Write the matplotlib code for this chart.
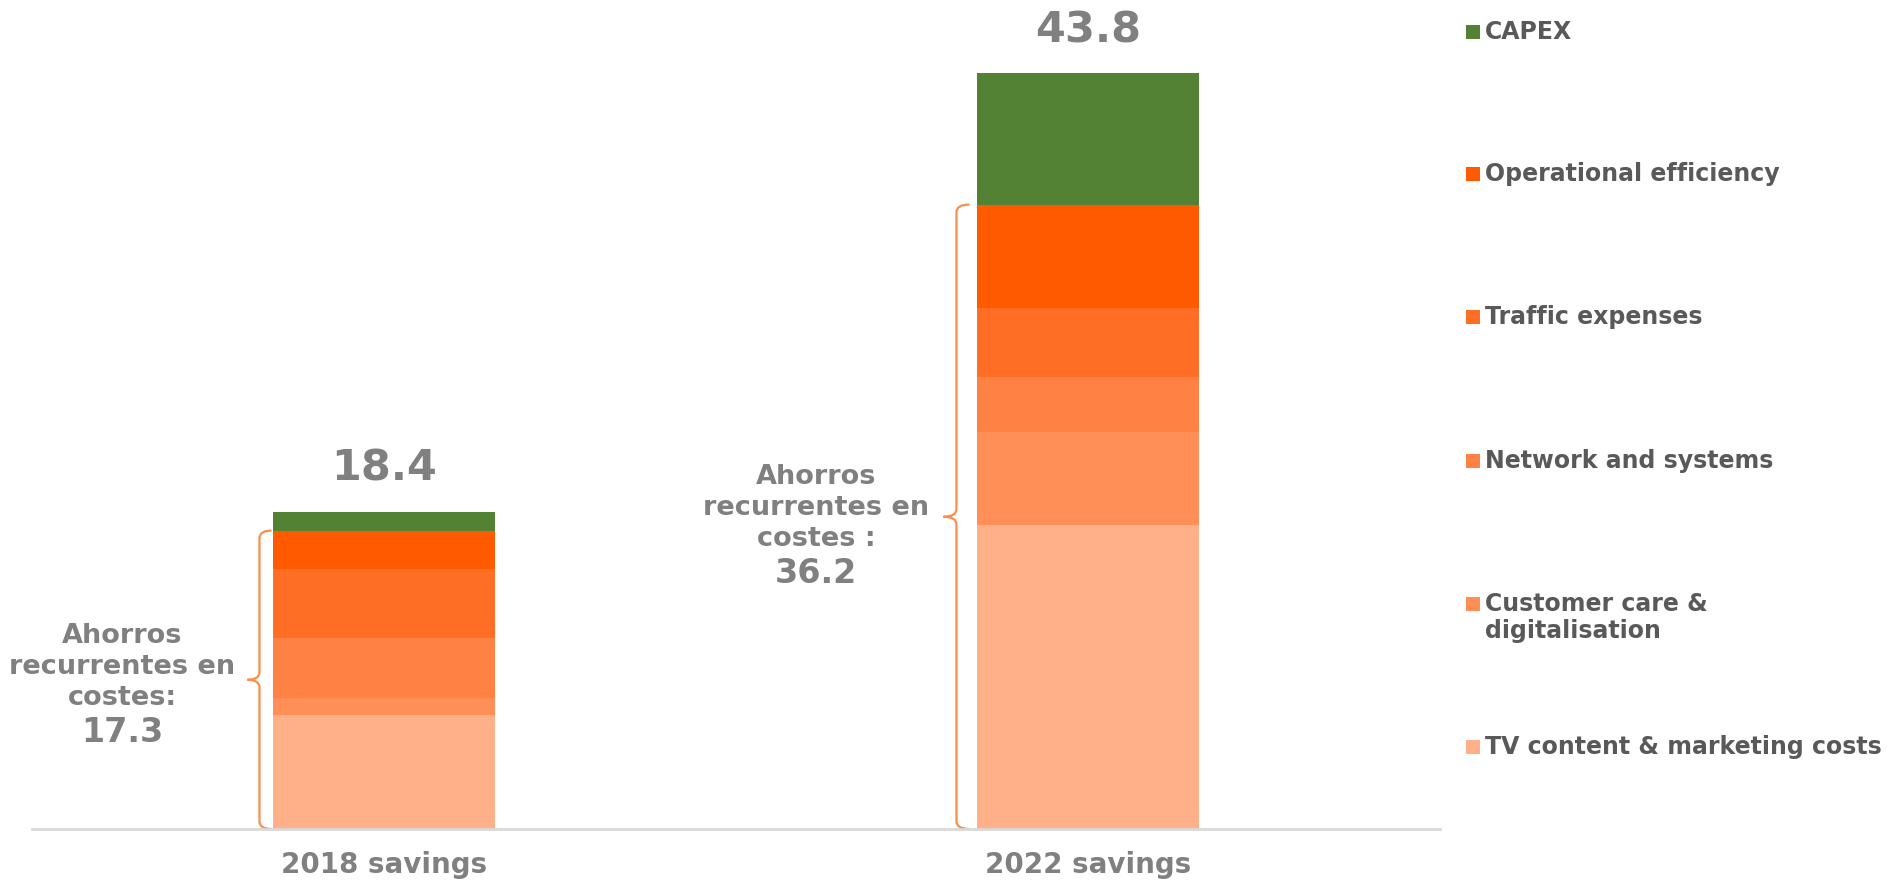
import matplotlib
matplotlib.use("Agg")
import matplotlib.pyplot as plt
from matplotlib.path import Path
from matplotlib.patches import PathPatch, Rectangle
import numpy as np

plt.rcParams['font.family'] = ['DejaVu Sans']

# ---- data ----
periods = ["2018 savings", "2022 savings"]
categories = ["TV content & marketing costs", "Customer care &\ndigitalisation",
              "Network and systems", "Traffic expenses", "Operational efficiency", "CAPEX"]
tv_content = [6.6, 17.6]
customer_care = [1.0, 5.4]
network = [3.5, 3.2]
traffic = [4.0, 4.0]
operational = [2.2, 6.0]
capex = [1.1, 7.6]
totals = [18.4, 43.8]
recurring = [17.3, 36.2]
recurring_text = ["Ahorros\nrecurrentes en\ncostes:", "Ahorros\nrecurrentes en\ncostes :"]

series = [tv_content, customer_care, network, traffic, operational, capex]
colors = ["#FFB088", "#FF8F56", "#FF8244", "#FF6E24", "#FF5A00", "#548235"]

fig = plt.figure(figsize=(18.88, 8.82), dpi=100)
ax = fig.add_axes([32/1888, 53/882, (1440-32)/1888, 828/882])

x = np.arange(len(periods))
width = 0.314
bottom = np.zeros(len(periods))
for vals, col in zip(series, colors):
    ax.bar(x, vals, width, bottom=bottom, color=col, edgecolor='none', linewidth=0)
    bottom += np.array(vals)

ax.set_xlim(-0.5, 1.5)
ax.set_ylim(0, 48)
for s in ['top', 'right', 'left']:
    ax.spines[s].set_visible(False)
ax.spines['bottom'].set_color('#D9D9D9')
ax.spines['bottom'].set_linewidth(2)
ax.set_yticks([])
ax.set_xticks(x)
ax.set_xticklabels(periods, fontsize=20, fontweight='bold', color='#808080')
ax.tick_params(axis='x', length=0, pad=16)

# totals above bars
for xi, t in zip(x, totals):
    ax.text(xi, t + 2.5, f"{t:.1f}", ha='center', va='center', fontsize=31,
            fontweight='bold', color='#808080')

# braces
px = 1/704.0
brace_offsets = [(14, 2, 26), (21, 8, 34)]
text_x = [-0.372, 0.614]
text_dy = [0.75, 0.5]

def brace(ax, xv, xt, xm, y0, y1, r):
    ym = (y0 + y1) / 2
    verts = [(xt, y1), (xv, y1), (xv, y1 - r),
             (xv, ym + r),
             (xv, ym), (xm, ym),
             (xv, ym), (xv, ym - r),
             (xv, y0 + r),
             (xv, y0), (xt, y0)]
    codes = [Path.MOVETO, Path.CURVE3, Path.CURVE3,
             Path.LINETO,
             Path.CURVE3, Path.CURVE3,
             Path.CURVE3, Path.CURVE3,
             Path.LINETO,
             Path.CURVE3, Path.CURVE3]
    ax.add_patch(PathPatch(Path(verts, codes), fill=False, edgecolor='#F5904E',
                           linewidth=1.6, clip_on=False))

for i, (xi, rec) in enumerate(zip(x, recurring)):
    left = xi - width / 2
    ov, ot, om = brace_offsets[i]
    brace(ax, left - ov*px, left - ot*px, left - om*px, 0, rec, 0.45)
    ym = rec / 2
    ax.text(text_x[i], ym + text_dy[i], recurring_text[i], ha='center', va='center',
            fontsize=19.5, fontweight='bold', color='#808080', linespacing=1.25,
            multialignment='center')
    ax.text(text_x[i], ym + text_dy[i] - 3.8, f"{rec:.1f}", ha='center', va='center',
            fontsize=24, fontweight='bold', color='#808080')

# legend (manual, top to bottom)
legend_rows = [31.7, 174, 317, 460.7, 604, 746.7]
for (lab, col), py in zip(list(zip(categories, colors))[::-1], legend_rows):
    yf = 1 - py/882
    fig.add_artist(Rectangle((1466/1888, yf - 7/882), 14/1888, 14/882,
                             transform=fig.transFigure, color=col, linewidth=0))
    fig.text(1485/1888, yf + 12/882, lab, ha='left', va='top', fontsize=17,
             fontweight='bold', color='#595959', linespacing=1.17)

fig.savefig("out.png", dpi=100, facecolor='white')
